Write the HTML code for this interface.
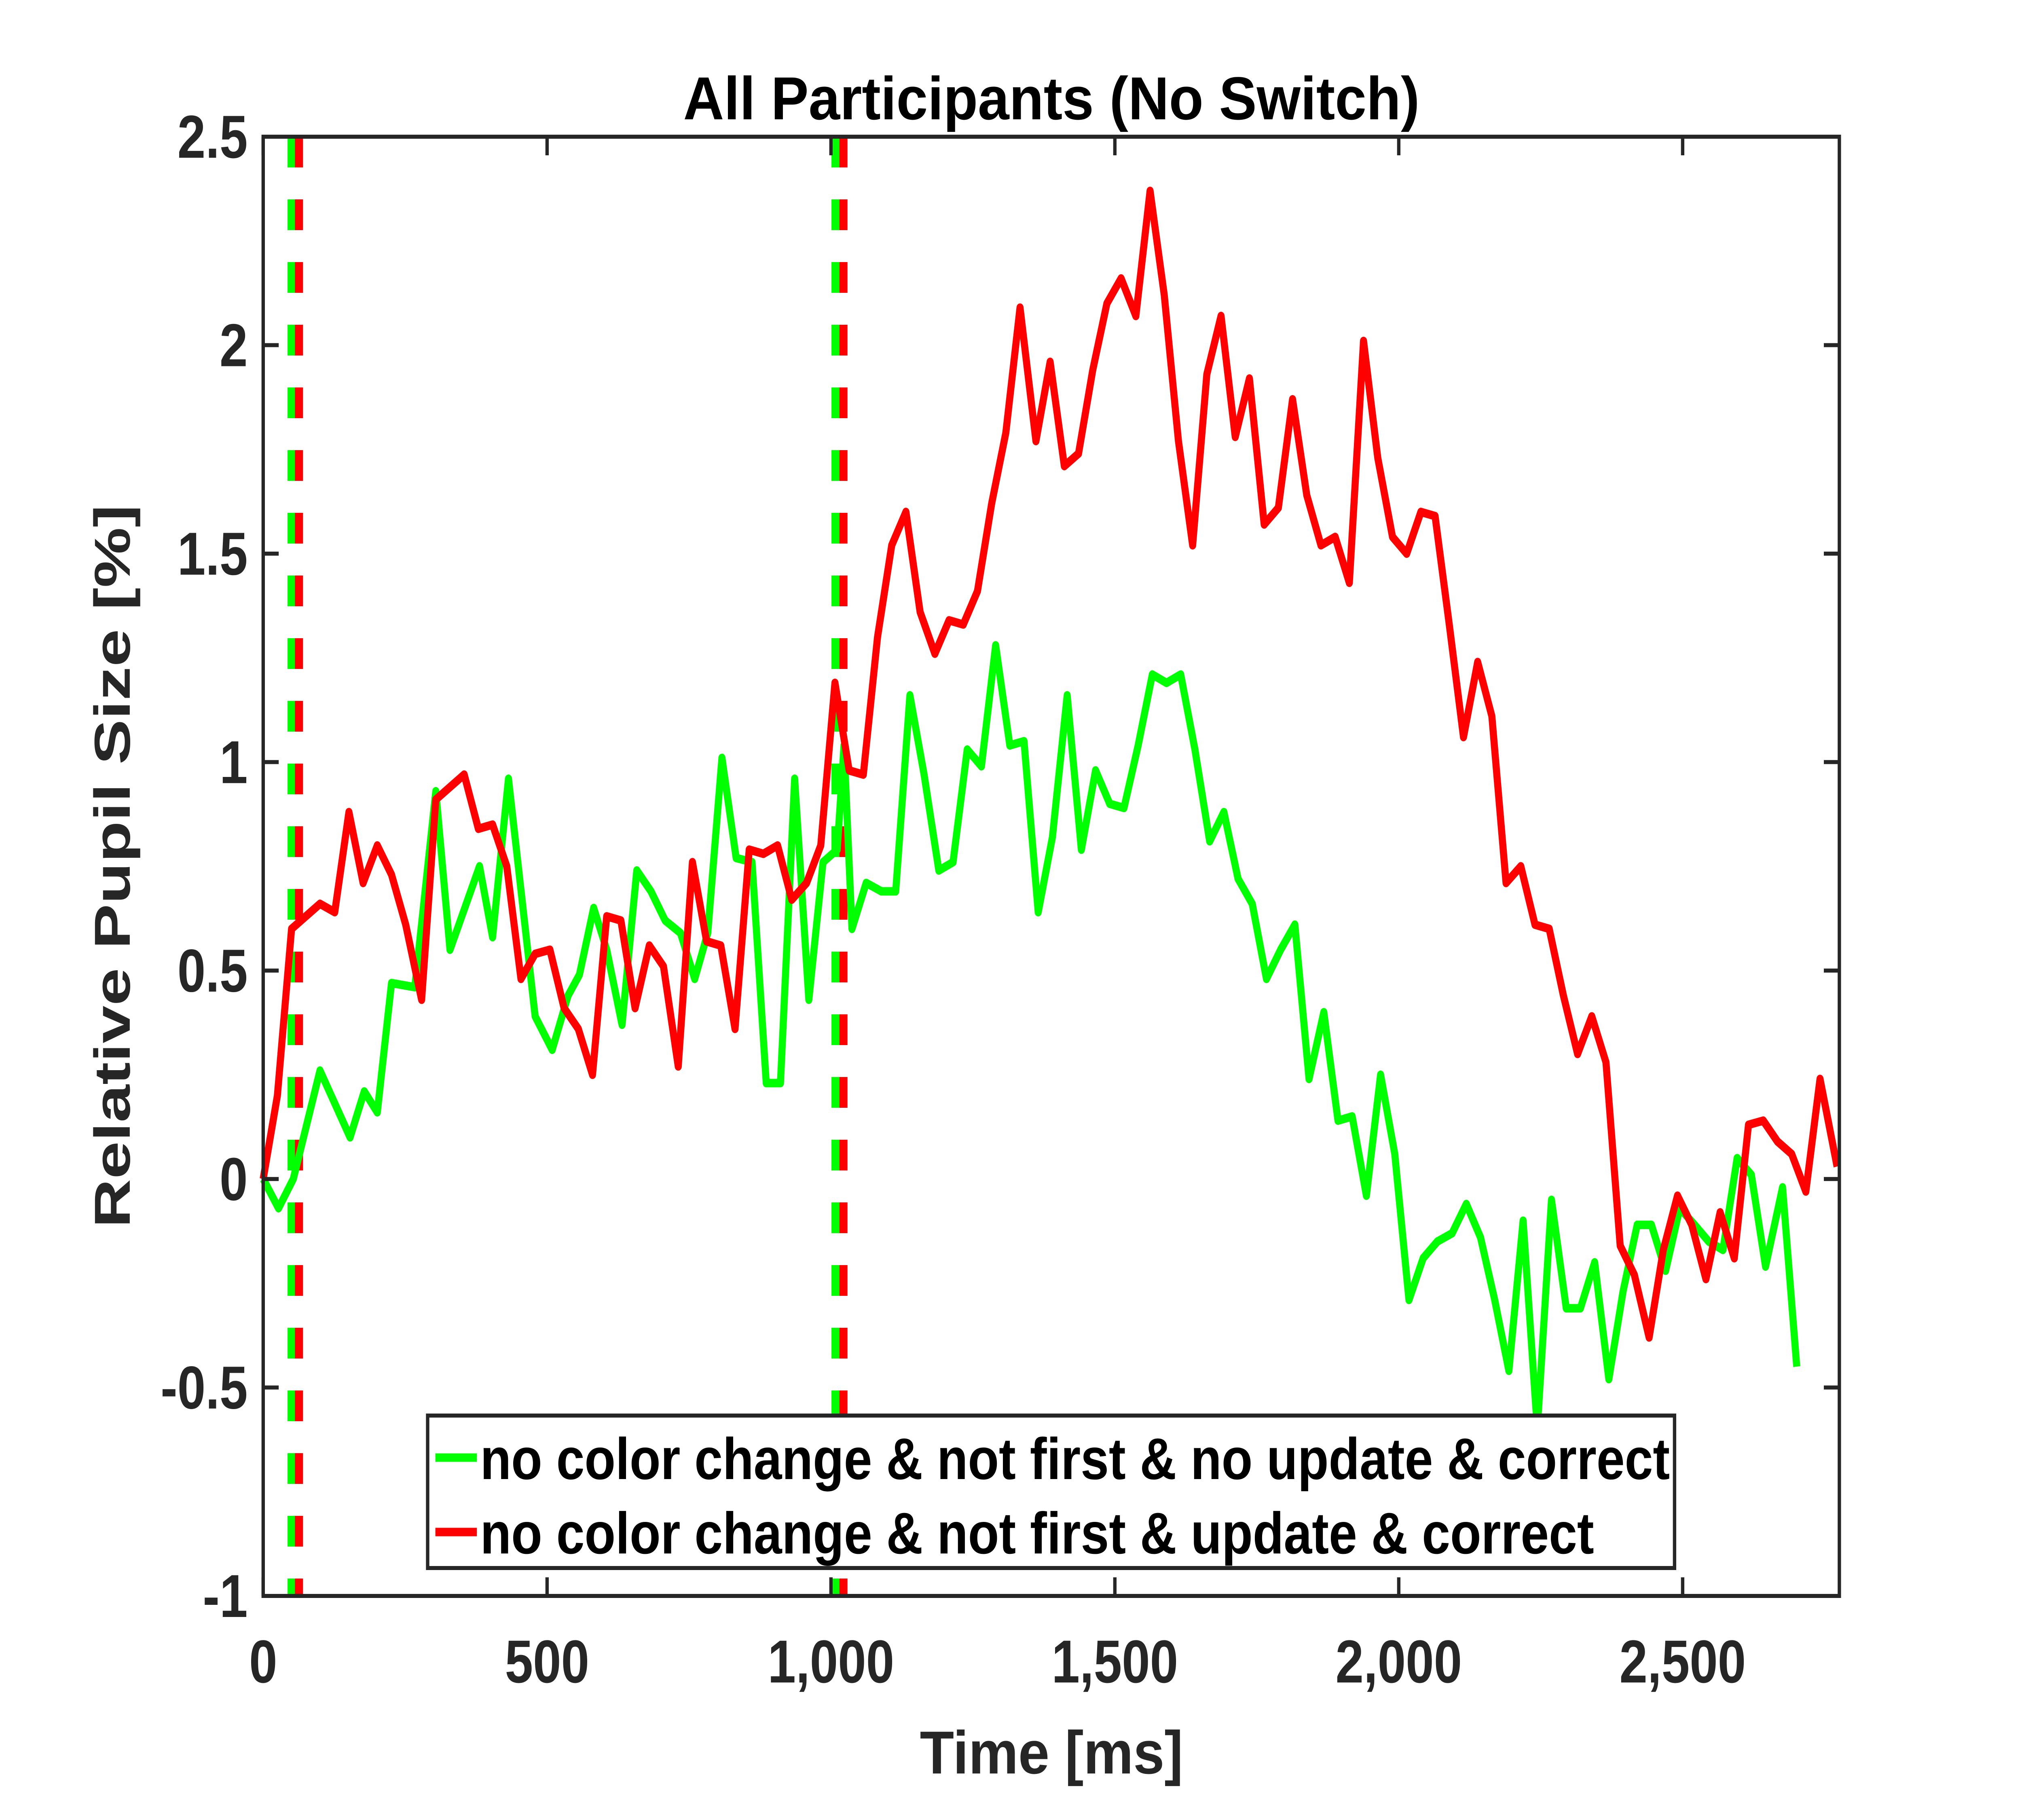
<!DOCTYPE html>
<html><head><meta charset="utf-8"><style>html,body{margin:0;padding:0;background:#fff;overflow:hidden;width:100%;height:100%}svg{display:block;width:100vw;height:100vh}</style></head>
<body>
<svg id="chart" xmlns="http://www.w3.org/2000/svg" viewBox="0 0 6000 4500" preserveAspectRatio="none" font-family="'Liberation Sans', Arial, sans-serif" font-weight="bold">
<rect x="0" y="0" width="6000" height="4500" fill="#fff"/>
<g id="plot"></g>
<text x="3120" y="295" text-anchor="middle" font-size="150" fill="#000" textLength="2185" lengthAdjust="spacingAndGlyphs">All Participants (No Switch)</text>
<text x="3120" y="4385" text-anchor="middle" font-size="150" fill="#262626" textLength="781" lengthAdjust="spacingAndGlyphs">Time [ms]</text>
<text transform="translate(385,2142) rotate(-90)" text-anchor="middle" font-size="150" fill="#262626" textLength="1788" lengthAdjust="spacingAndGlyphs">Relative Pupil Size [%]</text>
</svg>
<script>
const xTicks = [0, 500, 1000, 1500, 2000, 2500];
const xTickLabels = ["0", "500", "1,000", "1,500", "2,000", "2,500"];
const yTicks = [-1, -0.5, 0, 0.5, 1, 1.5, 2, 2.5];
const yTickLabels = ["-1", "-0.5", "0", "0.5", "1", "1.5", "2", "2.5"];
const greenTimes = [0,27,53,100,153,178,201,226,267,304,329,381,404,432,479,509,537,557,582,605,632,658,683,708,735,760,783,808,833,861,886,911,936,961,986,1011,1023,1037,1062,1089,1114,1139,1164,1190,1215,1240,1265,1290,1315,1340,1365,1390,1416,1441,1466,1491,1516,1541,1566,1591,1616,1641,1667,1692,1717,1742,1767,1792,1817,1842,1868,1893,1918,1943,1968,1993,2018,2043,2068,2094,2119,2144,2169,2194,2219,2244,2269,2295,2320,2345,2370,2395,2420,2445,2470,2495,2521,2546,2571,2596,2621,2646,2676,2701];
const greenValues = [0,-0.07,0.0,0.26,0.1,0.21,0.16,0.47,0.46,0.93,0.55,0.75,0.58,0.96,0.39,0.31,0.44,0.49,0.65,0.55,0.37,0.74,0.69,0.62,0.59,0.48,0.59,1.01,0.77,0.76,0.23,0.23,0.96,0.43,0.76,0.79,1.04,0.6,0.71,0.69,0.69,1.16,0.97,0.74,0.76,1.03,0.99,1.28,1.04,1.05,0.64,0.82,1.16,0.79,0.98,0.9,0.89,1.04,1.21,1.19,1.21,1.03,0.81,0.88,0.72,0.66,0.48,0.55,0.61,0.24,0.4,0.14,0.15,-0.04,0.25,0.06,-0.29,-0.19,-0.15,-0.13,-0.06,-0.14,-0.29,-0.46,-0.1,-0.6,-0.05,-0.31,-0.31,-0.2,-0.48,-0.27,-0.11,-0.11,-0.22,-0.07,-0.11,-0.15,-0.17,0.05,0.01,-0.21,-0.02,-0.45];
const redTimes = [0,25,50,75,100,126,151,176,201,226,251,279,304,329,354,379,404,429,454,479,505,530,555,580,605,630,655,680,705,731,756,781,806,831,856,881,906,931,957,982,1007,1032,1057,1082,1107,1132,1157,1183,1208,1233,1258,1283,1308,1333,1361,1386,1411,1436,1461,1486,1511,1537,1562,1587,1612,1637,1662,1687,1712,1737,1763,1788,1813,1838,1863,1888,1913,1938,1963,1989,2014,2039,2064,2089,2114,2139,2164,2189,2215,2240,2265,2290,2315,2340,2365,2390,2415,2441,2466,2491,2516,2541,2566,2591,2616,2642,2667,2692,2717,2742,2772];
const redValues = [0,0.2,0.6,0.63,0.66,0.64,0.88,0.71,0.8,0.73,0.61,0.43,0.91,0.94,0.97,0.84,0.85,0.75,0.48,0.54,0.55,0.41,0.36,0.25,0.63,0.62,0.41,0.56,0.51,0.27,0.76,0.57,0.56,0.36,0.79,0.78,0.8,0.67,0.71,0.8,1.19,0.98,0.97,1.3,1.52,1.6,1.36,1.26,1.34,1.33,1.41,1.62,1.79,2.09,1.77,1.96,1.71,1.74,1.94,2.1,2.16,2.07,2.37,2.12,1.77,1.52,1.93,2.07,1.78,1.92,1.57,1.61,1.87,1.64,1.52,1.54,1.43,2.01,1.73,1.54,1.5,1.6,1.59,1.33,1.06,1.24,1.11,0.71,0.75,0.61,0.6,0.44,0.3,0.39,0.28,-0.16,-0.23,-0.38,-0.17,-0.04,-0.11,-0.24,-0.08,-0.19,0.13,0.14,0.09,0.06,-0.03,0.24,0.03];
const greenMarkers = [50, 1008];
const redMarkers = [63, 1022];

const NS = "http://www.w3.org/2000/svg";
const L = 781, R = 5458, T = 338, B = 3946;
const X0 = 0, X1 = 2776, Y0 = -1, Y1 = 2.5;
function xs(v){ return L + (v - X0) / (X1 - X0) * (R - L); }
function ys(v){ return B - (v - Y0) / (Y1 - Y0) * (B - T); }
const plot = document.getElementById('plot');
function mk(tag, attrs, parent){ const e = document.createElementNS(NS, tag); for (const k in attrs) e.setAttribute(k, attrs[k]); (parent||plot).appendChild(e); return e; }

greenMarkers.forEach(function(t){
  const ln = mk('line', {x1: xs(t), x2: xs(t), y1: T, y2: B, stroke: '#00ff00', 'stroke-width': 24, 'stroke-dasharray': '76 79'});
  
  
});
redMarkers.forEach(function(t){
  const ln = mk('line', {x1: xs(t), x2: xs(t), y1: T, y2: B, stroke: '#ff0000', 'stroke-width': 24, 'stroke-dasharray': '76 79'});
  
  
});

function series(times, vals, color, name){
  let d = '';
  for (let i = 0; i < times.length; i++) d += (i ? 'L' : 'M') + xs(times[i]).toFixed(1) + ' ' + ys(vals[i]).toFixed(1);
  const p = mk('path', {d: d, fill: 'none', stroke: color, 'stroke-width': 21, 'stroke-linejoin': 'round'});
  
  
}
series(greenTimes, greenValues, '#00ff00', 'no-update-series-line');
series(redTimes, redValues, '#ff0000', 'update-series-line');

const box = mk('rect', {x: L, y: T, width: R - L, height: B - T, fill: 'none', stroke: '#262626', 'stroke-width': 10});



const TL = 46;
xTicks.forEach(function(v, i){
  const x = xs(v);
  mk('line', {x1: x, x2: x, y1: B, y2: B - TL, stroke: '#262626', 'stroke-width': 10});
  mk('line', {x1: x, x2: x, y1: T, y2: T + TL, stroke: '#262626', 'stroke-width': 10});
  const t = mk('text', {x: x, y: 4160, 'text-anchor': 'middle', 'font-size': 150, fill: '#262626'});
  t.textContent = xTickLabels[i];
  
  
});
yTicks.forEach(function(v, i){
  const y = ys(v);
  mk('line', {x1: L, x2: L + TL, y1: y, y2: y, stroke: '#262626', 'stroke-width': 10});
  mk('line', {x1: R, x2: R - TL, y1: y, y2: y, stroke: '#262626', 'stroke-width': 10});
  const t = mk('text', {x: 735, y: y + 52, 'text-anchor': 'end', 'font-size': 150, fill: '#262626'});
  t.textContent = yTickLabels[i];
  
  
});

const lg = mk('g', {});


mk('rect', {x: 1269, y: 3500, width: 3700, height: 377, fill: '#fff', stroke: '#262626', 'stroke-width': 10}, lg);
const entries = [['no color change & not first & no update & correct', '#00ff00', 3604], ['no color change & not first & update & correct', '#ff0000', 3788]];
entries.forEach(function(e, i){
  const g = mk('g', {}, lg);
  
  
  mk('line', {x1: 1292, x2: 1415, y1: e[2], y2: e[2], stroke: e[1], 'stroke-width': 21}, g);
  const t = mk('text', {x: 1425, y: e[2] + 53, 'font-size': 145, fill: '#000'}, g);
  t.textContent = e[0];
  t.setAttribute('textLength', i === 0 ? 3530 : 3305);
  t.setAttribute('lengthAdjust', 'spacingAndGlyphs');
});
</script>
</body></html>
